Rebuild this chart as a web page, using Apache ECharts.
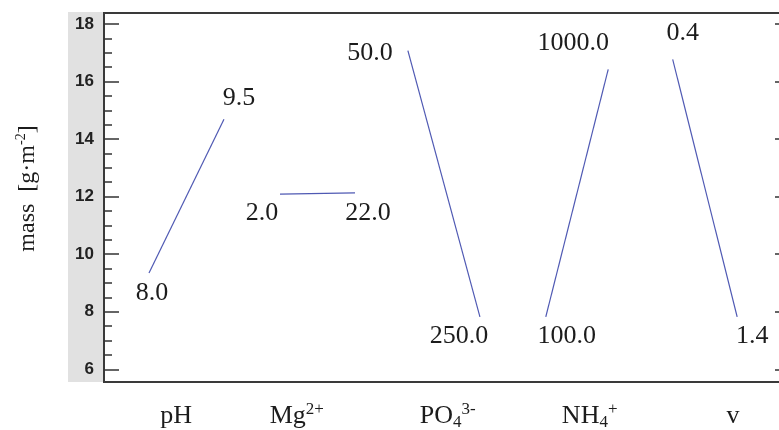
<!DOCTYPE html>
<html>
<head>
<meta charset="utf-8">
<script src="https://cdn.jsdelivr.net/npm/echarts@6/dist/echarts.min.js"></script>
<style>html,body{margin:0;padding:0;background:#fff}#c{width:779px;height:430px}</style>
</head>
<body>
<div id="c"></div>
<script>
// ---- data ----
var factorNames = ['{n|pH}', '{n|Mg}{sup|2+}', '{n|PO}{sub|4}{sup|3-}', '{n|NH}{sub|4}{sup|+}', '{n|v}'];
var factorPos   = [1.05, 2.81, 5.01, 7.08, 9.17];
var lowPos      = [0.656, 2.566, 4.43, 6.44, 8.29];
var highPos     = [1.749, 3.659, 5.48, 7.35, 9.23];
var lowLevel    = ['8.0', '2.0', '50.0', '100.0', '0.4'];
var highLevel   = ['9.5', '22.0', '250.0', '1000.0', '1.4'];
var lowMean     = [9.35, 12.09, 17.07, 7.82, 16.77];
var highMean    = [14.69, 12.13, 7.82, 16.42, 7.82];
var yMajorTicks = [6, 8, 10, 12, 14, 16, 18];
var yMinorTicks = [5.5, 6.5, 7, 7.5, 8.5, 9, 9.5, 10.5, 11, 11.5, 12.5, 13, 13.5, 14.5, 15, 15.5, 16.5, 17, 17.5, 18.5];

// ---- styling (label placement offsets in px) ----
var lowOffsets  = [[3, 20], [-18, 19], [-38, 2], [21, 19], [10, -26]];
var highOffsets = [[15, -21], [13, 20], [-21, 19], [-35, -26], [15, 19]];

var serif = 'Liberation Serif';
var lineColor = '#4f59b3';
var textColor = '#1c1c1c';

var series = factorNames.map(function (f, i) {
  return {
    type: 'line',
    xAxisIndex: 0,
    yAxisIndex: 0,
    symbol: 'circle',
    symbolSize: 0.1,
    itemStyle: { color: 'rgba(0,0,0,0)' },
    lineStyle: { color: lineColor, width: 1.2 },
    silent: true,
    animation: false,
    data: [
      { value: [lowPos[i], lowMean[i]], label: { show: true, formatter: lowLevel[i], offset: lowOffsets[i] } },
      { value: [highPos[i], highMean[i]], label: { show: true, formatter: highLevel[i], offset: highOffsets[i] } }
    ],
    label: {
      position: 'inside',
      fontFamily: serif,
      fontSize: 26,
      color: textColor
    }
  };
});

var yMin = 5.56, yMax = 18.38;
var chart = echarts.init(document.getElementById('c'), null, { renderer: 'canvas' });
chart.setOption({
  backgroundColor: '#ffffff',
  animation: false,
  graphic: [{
    type: 'rect',
    left: 68, top: 12,
    shape: { width: 35, height: 370 },
    style: { fill: '#e1e1e1' },
    z: -10
  }],
  grid: {
    left: 104, right: -11, top: 13, bottom: 48,
    outerBoundsMode: 'none',
    containLabel: false,
    show: true, borderColor: '#3a3a3a', borderWidth: 2, backgroundColor: 'rgba(0,0,0,0)'
  },
  xAxis: [{
    type: 'value',
    min: 0, max: 10,
    splitLine: { show: false },
    axisLine: { show: true, lineStyle: { color: '#3a3a3a', width: 2 } },
    axisTick: { show: false },
    axisLabel: {
      customValues: factorPos,
      margin: 19,
      formatter: function (v) {
        var best = 0, d = Infinity;
        for (var i = 0; i < factorPos.length; i++) {
          if (Math.abs(factorPos[i] - v) < d) { d = Math.abs(factorPos[i] - v); best = i; }
        }
        return factorNames[best];
      },
      rich: {
        n: { fontFamily: serif, fontSize: 26, color: textColor, lineHeight: 30 },
        sup: { fontFamily: serif, fontSize: 17, color: textColor, verticalAlign: 'top', lineHeight: 30, padding: [0, 0, 8, 0] },
        sub: { fontFamily: serif, fontSize: 17, color: textColor, verticalAlign: 'bottom', lineHeight: 30, padding: [6, 0, 0, 0] }
      }
    }
  }],
  yAxis: [{
    type: 'value',
    position: 'left',
    min: yMin, max: yMax,
    splitLine: { show: false },
    axisLine: { show: true, lineStyle: { color: '#3a3a3a', width: 2 } },
    axisTick: { show: true, inside: true, length: 15, customValues: yMajorTicks, lineStyle: { color: '#333', width: 1.5 } },
    axisLabel: {
      customValues: yMajorTicks, margin: 10,
      fontFamily: 'Liberation Sans', fontSize: 17, fontWeight: 'bold', color: '#222'
    },
    name: '{t|mass  [g·m}{sup|-2}{t|]}',
    nameLocation: 'middle',
    nameRotate: 90,
    nameGap: 62,
    nameTextStyle: {
      padding: [0, 0, 0, 18],
      rich: {
        t: { fontFamily: serif, fontSize: 24, color: textColor, lineHeight: 28 },
        sup: { fontFamily: serif, fontSize: 14, color: textColor, verticalAlign: 'top', lineHeight: 28, padding: [0, 0, 12, 0] }
      }
    }
  }, {
    type: 'value',
    position: 'left',
    min: yMin, max: yMax,
    splitLine: { show: false },
    axisLine: { show: false },
    axisTick: { show: true, inside: true, length: 8, customValues: yMinorTicks, lineStyle: { color: '#333', width: 1.5 } },
    axisLabel: { show: false }
  }, {
    type: 'value',
    position: 'right',
    min: yMin, max: yMax,
    splitLine: { show: false },
    axisLine: { show: true, lineStyle: { color: '#3a3a3a', width: 2 } },
    axisTick: { show: true, inside: true, length: 15, customValues: yMajorTicks, lineStyle: { color: '#333', width: 1.5 } },
    axisLabel: { show: false }
  }],
  series: series
});
</script>
</body>
</html>
